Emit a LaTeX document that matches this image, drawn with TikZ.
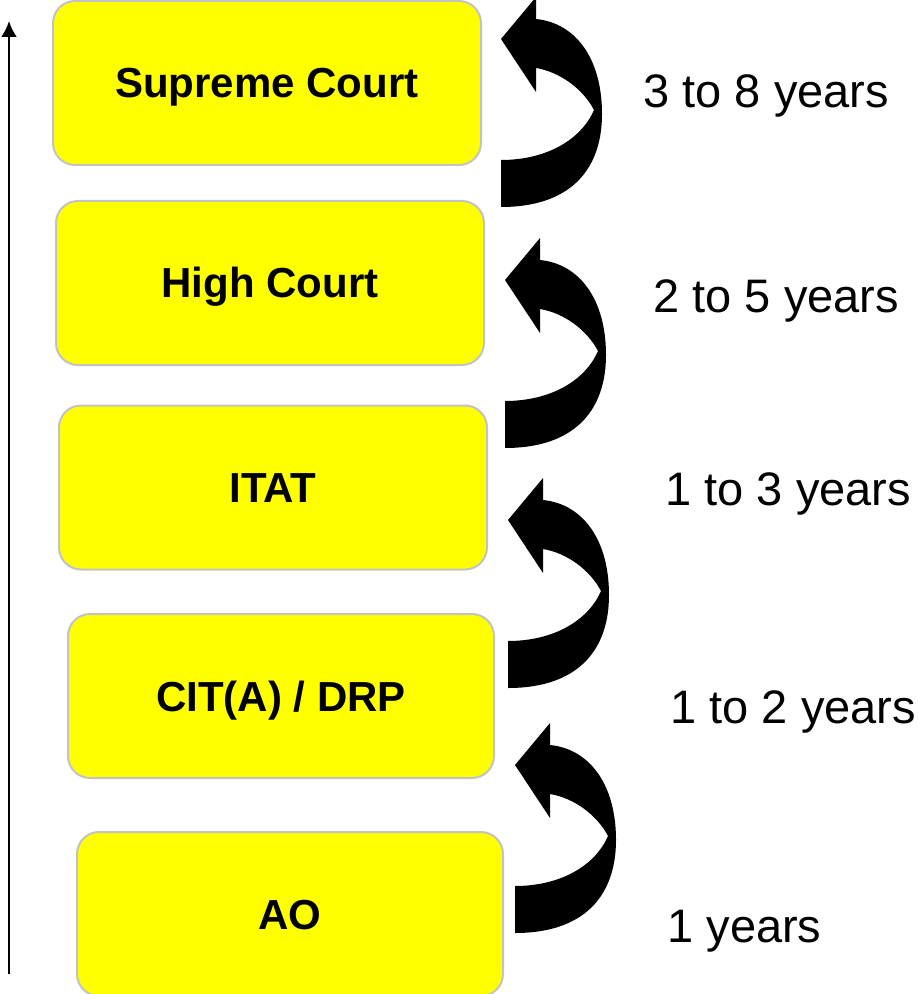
\documentclass[tikz,border=0pt]{standalone}
\usepackage{fontspec}
\setmainfont{Liberation Sans}
\usepackage{tikz}
\usetikzlibrary{arrows.meta}

\definecolor{boxyellow}{RGB}{255,255,0}
\definecolor{boxedge}{RGB}{195,195,195}

\tikzset{
  courtbox/.style={draw=boxedge, line width=1pt, fill=boxyellow, rounded corners=11pt,
    minimum width=214pt, minimum height=82pt, inner sep=0pt, text height=15pt, text depth=0pt,
    font=\bfseries\fontsize{21}{25}\selectfont},
  yearlabel/.style={anchor=base west, inner sep=0pt, font=\fontsize{23.5}{28}\selectfont}
}

\begin{document}
\begin{tikzpicture}[x=0.5pt, y=-0.5pt, >=Latex]
  \useasboundingbox (0,0) rectangle (917,994);
  % timeline
  \coordinate (base) at (9,974);
  \coordinate (peak) at (9,21);
  \draw[-{Latex[length=8pt,width=8pt]}, line width=1.2pt] (base) -- (peak);
  % courts
  \node[courtbox] (sc)  at (267,83)    {Supreme Court};
  \node[courtbox] (hc)  at (270,283)   {High Court};
  \node[courtbox] (itat) at (273,487.5) {ITAT};
  \node[courtbox, minimum width=213pt] (cit) at (281,696) {CIT(A) / DRP};
  \node[courtbox, minimum width=213pt] (ao)  at (290,914) {AO};
  % curved arrows
  \foreach \x/\y in {501/-3, 505/238, 508/478, 515/723}
    \fill[shift={(\x,\y)}] (0,210) .. controls (70,210) and (101,172) .. (101,117)
      .. controls (101,62) and (75,26) .. (35,22) -- (35,0) -- (0,42) -- (35,95) -- (35,71)
      .. controls (59,75) and (82,92) .. (93,113) .. controls (80,143) and (45,163) .. (0,163) -- cycle;
  % time taken
  \node[yearlabel] (t1) at (643,108) {3 to 8 years};
  \node[yearlabel] (t2) at (653,313) {2 to 5 years};
  \node[yearlabel] (t3) at (665,505) {1 to 3 years};
  \node[yearlabel] (t4) at (670,723) {1 to 2 years};
  \node[yearlabel] (t5) at (667,942) {1 years};
\end{tikzpicture}
\end{document}
